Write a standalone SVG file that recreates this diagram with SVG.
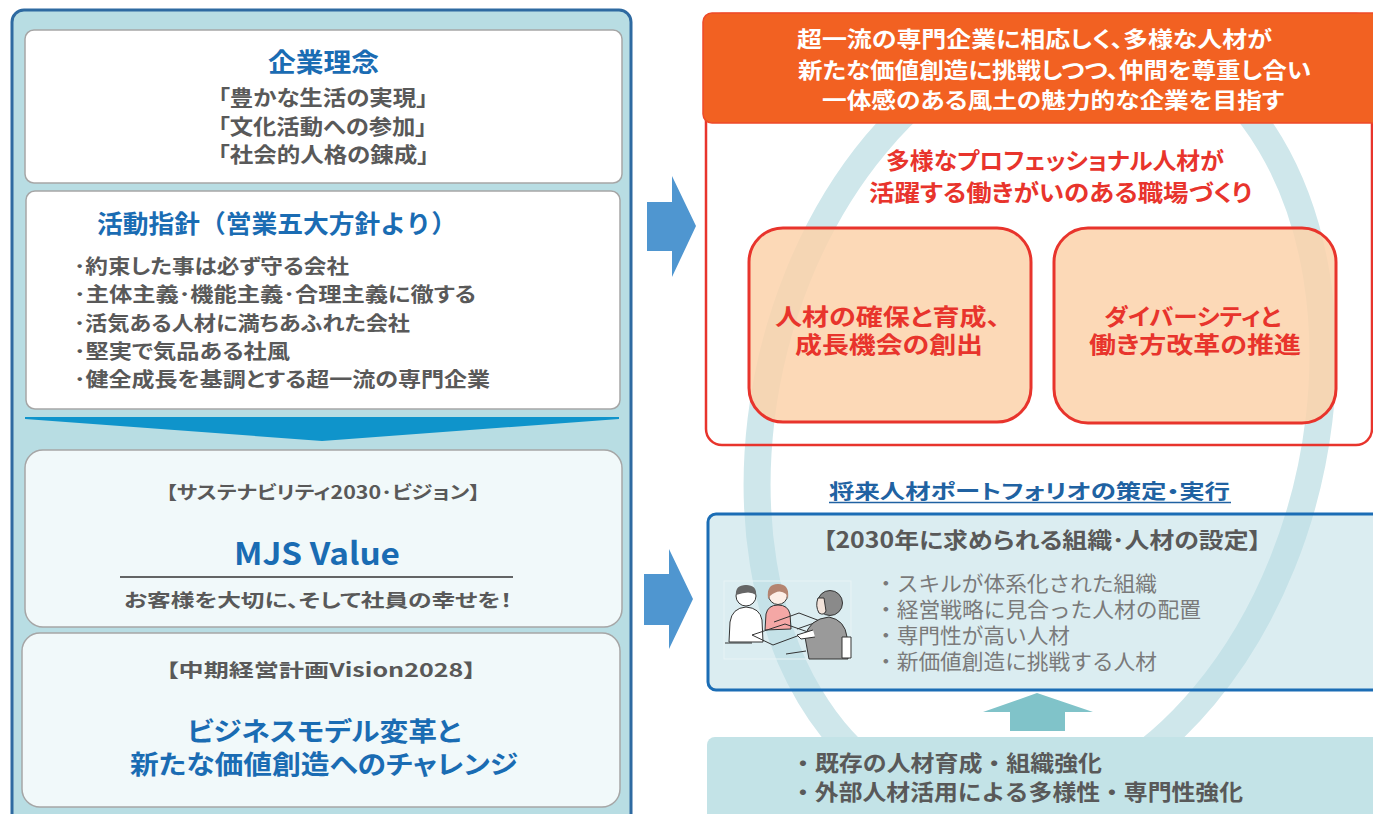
<svg xmlns="http://www.w3.org/2000/svg" width="1373" height="814" viewBox="0 0 1373 814">
  <defs>
    <style>
      .jp{font-family:'Noto Sans CJK JP','Noto Sans CJK SC',sans-serif;font-weight:700}
      .pt{font-feature-settings:'palt'}
      .rg{font-family:'Noto Sans CJK JP','Noto Sans CJK SC',sans-serif;font-weight:400}
      .blue{fill:#1a6cb3}
      .gray{fill:#595959}
      .red{fill:#e8342c}
      .card{fill:#ffffff;stroke:#a6a6a6;stroke-width:1.5}
      .card2{fill:#f1f9fa;stroke:#a6a6a6;stroke-width:1.5}
      .flow{fill:#4f96d0}
      .peach{fill:#fcd3ab;fill-opacity:0.86;stroke:#e8342c;stroke-width:3}
      .ink{stroke:#333;stroke-width:1;stroke-linejoin:round}
    </style>
  </defs>

  <rect width="1373" height="814" fill="#ffffff"/>

  <!-- left column -->
  <g id="left-panel">
    <rect x="12" y="10" width="619" height="830" rx="12" fill="#b8dde3" stroke="#2e6aa1" stroke-width="3"/>
  </g>

  <g id="philosophy">
    <rect class="card" x="25" y="30" width="597" height="153" rx="9"/>
    <text class="jp pt blue" x="268" y="72" font-size="26" textLength="111" lengthAdjust="spacingAndGlyphs">企業理念</text>
    <text class="jp pt gray" x="218" y="105" font-size="21" textLength="210" lengthAdjust="spacingAndGlyphs">「豊かな生活の実現」</text>
    <text class="jp pt gray" x="218" y="134" font-size="21" textLength="209" lengthAdjust="spacingAndGlyphs">「文化活動への参加」</text>
    <text class="jp pt gray" x="218" y="162" font-size="21" textLength="211" lengthAdjust="spacingAndGlyphs">「社会的人格の錬成」</text>
  </g>

  <g id="guidelines">
    <rect class="card" x="26" y="191" width="594" height="218" rx="9"/>
    <text class="jp blue" x="97" y="233" font-size="25" textLength="360" lengthAdjust="spacingAndGlyphs">活動指針（営業五大方針より）</text>
    <text class="jp pt gray" x="74" y="274" font-size="20" textLength="275" lengthAdjust="spacingAndGlyphs">･約束した事は必ず守る会社</text>
    <text class="jp pt gray" x="74" y="302" font-size="20" textLength="402" lengthAdjust="spacingAndGlyphs">･主体主義･機能主義･合理主義に徹する</text>
    <text class="jp pt gray" x="74" y="331" font-size="20" textLength="336" lengthAdjust="spacingAndGlyphs">･活気ある人材に満ちあふれた会社</text>
    <text class="jp pt gray" x="74" y="359" font-size="20" textLength="216" lengthAdjust="spacingAndGlyphs">･堅実で気品ある社風</text>
    <text class="jp pt gray" x="74" y="387" font-size="20" textLength="416" lengthAdjust="spacingAndGlyphs">･健全成長を基調とする超一流の専門企業</text>
  </g>

  <g id="down-chevron">
    <polygon points="25,417 619,417 619,419 322,441 25,419" fill="#0f94cb"/>
  </g>

  <g id="vision-2030">
    <rect class="card2" x="25" y="450" width="597" height="177" rx="18"/>
    <text class="jp pt gray" x="166" y="499" font-size="18" textLength="314" lengthAdjust="spacingAndGlyphs">【サステナビリティ2030･ビジョン】</text>
    <text class="jp blue" x="234" y="565" font-size="31" textLength="166" lengthAdjust="spacingAndGlyphs">MJS Value</text>
    <line x1="120" y1="577" x2="513" y2="577" stroke="#333" stroke-width="1.5"/>
    <text class="jp pt gray" x="124" y="607" font-size="18.5" textLength="388" lengthAdjust="spacingAndGlyphs">お客様を大切に、そして社員の幸せを！</text>
  </g>

  <g id="vision-2028">
    <rect class="card2" x="22" y="633" width="598" height="174" rx="18"/>
    <text class="jp pt gray" x="166" y="677" font-size="18.5" textLength="310" lengthAdjust="spacingAndGlyphs">【中期経営計画Vision2028】</text>
    <text class="jp pt blue" x="187" y="741" font-size="26" textLength="274" lengthAdjust="spacingAndGlyphs">ビジネスモデル変革と</text>
    <text class="jp pt blue" x="130" y="774" font-size="26" textLength="388" lengthAdjust="spacingAndGlyphs">新たな価値創造へのチャレンジ</text>
  </g>

  <!-- connectors -->
  <g id="connectors">
    <polygon class="flow" points="647,202 672,202 672,176 696,226 672,277 672,251 647,251"/>
    <polygon class="flow" points="644,574 669,574 669,549 693,599 669,649 669,625 644,625"/>
    <polygon points="1037,693 1093,712 1065,712 1065,731 1010,731 1010,712 983,712" fill="#80c3c9"/>
  </g>

  <!-- cycle ring behind the right column (slanted oval) -->
  <g id="cycle-ring" transform="translate(1040 420) matrix(1 0 -0.12 1 0 0)">
    <ellipse cx="0" cy="0" rx="279" ry="390" fill="none" stroke="#cfe7eb" stroke-width="27" vector-effect="non-scaling-stroke"/>
  </g>

  <g id="goal-frame">
    <rect x="706" y="14" width="666" height="431" rx="16" fill="none" stroke="#e8342c" stroke-width="2.5"/>
  </g>

  <g id="goal-header">
    <rect x="703" y="13" width="690" height="110" rx="9" fill="#f26122" stroke="#ee4a28" stroke-width="1.5"/>
    <text class="jp pt" fill="#ffffff" x="797" y="47" font-size="22" textLength="475" lengthAdjust="spacingAndGlyphs">超一流の専門企業に相応しく、多様な人材が</text>
    <text class="jp pt" fill="#ffffff" x="798" y="78" font-size="22" textLength="513" lengthAdjust="spacingAndGlyphs">新たな価値創造に挑戦しつつ、仲間を尊重し合い</text>
    <text class="jp pt" fill="#ffffff" x="822" y="108" font-size="22" textLength="462" lengthAdjust="spacingAndGlyphs">一体感のある風土の魅力的な企業を目指す</text>
  </g>

  <g id="workplace-title">
    <text class="jp pt red" x="886" y="169" font-size="23" textLength="338" lengthAdjust="spacingAndGlyphs">多様なプロフェッショナル人材が</text>
    <text class="jp pt red" x="869" y="201" font-size="23" textLength="383" lengthAdjust="spacingAndGlyphs">活躍する働きがいのある職場づくり</text>
  </g>

  <g id="talent-growth">
    <rect class="peach" x="749" y="228" width="282" height="194" rx="34"/>
    <text class="jp pt red" x="775" y="325" font-size="23" textLength="225" lengthAdjust="spacingAndGlyphs">人材の確保と育成、</text>
    <text class="jp pt red" x="795" y="353" font-size="23" textLength="188" lengthAdjust="spacingAndGlyphs">成長機会の創出</text>
  </g>

  <g id="diversity">
    <rect class="peach" x="1054" y="228" width="282" height="195" rx="34"/>
    <text class="jp pt red" x="1104" y="325" font-size="23" textLength="177" lengthAdjust="spacingAndGlyphs">ダイバーシティと</text>
    <text class="jp pt red" x="1089" y="353" font-size="23" textLength="212" lengthAdjust="spacingAndGlyphs">働き方改革の推進</text>
  </g>

  <g id="portfolio-title">
    <text class="jp pt" fill="#2062a2" x="829" y="499" font-size="20" textLength="401" lengthAdjust="spacingAndGlyphs">将来人材ポートフォリオの策定・実行</text>
    <line x1="829" y1="502.5" x2="1231" y2="502.5" stroke="#2062a2" stroke-width="1.5"/>
  </g>

  <g id="target-2030">
    <rect x="708" y="514" width="690" height="176" rx="8" fill="#bddfe6" fill-opacity="0.55" stroke="#1b6db5" stroke-width="3"/>
    <text class="jp pt gray" x="823" y="548" font-size="22" textLength="438" lengthAdjust="spacingAndGlyphs">【2030年に求められる組織･人材の設定】</text>
    <text class="rg" fill="#7a7a7a" x="875" y="591" font-size="21" textLength="282" lengthAdjust="spacingAndGlyphs">・スキルが体系化された組織</text>
    <text class="rg" fill="#7a7a7a" x="875" y="617" font-size="21" textLength="326" lengthAdjust="spacingAndGlyphs">・経営戦略に見合った人材の配置</text>
    <text class="rg" fill="#7a7a7a" x="875" y="643" font-size="21" textLength="195" lengthAdjust="spacingAndGlyphs">・専門性が高い人材</text>
    <text class="rg" fill="#7a7a7a" x="875" y="669" font-size="21" textLength="282" lengthAdjust="spacingAndGlyphs">・新価値創造に挑戦する人材</text>

    <!-- meeting illustration -->
    <g id="meeting">
      <rect x="724" y="581" width="127" height="78" fill="none" stroke="#e8f3f5" stroke-width="1"/>
      <!-- boy -->
      <path class="ink" d="M729,642 L730,622 Q732,608 746,607 Q760,608 762,620 L763,642 Z" fill="#ffffff"/>
      <circle class="ink" cx="746" cy="596" r="10" fill="#ffffff"/>
      <path d="M736,595 Q735,585 746,585 Q757,585 756,595 Q750,590 736,595 Z" fill="#666"/>
      <!-- girl -->
      <path class="ink" d="M765,630 L766,614 Q768,605 778,605 Q788,605 790,614 L791,629 Z" fill="#f4a7a5"/>
      <circle class="ink" cx="778" cy="595" r="9.5" fill="#fdeee6"/>
      <path d="M768,599 Q766,584 778,584 Q790,584 788,599 L786,594 Q779,588 770,596 Z" fill="#b48470"/>
      <!-- table papers -->
      <path class="ink" d="M752,635 L785,624 L808,632 L773,645 Z" fill="none"/>
      <path class="ink" d="M774,622 L799,613 L820,621 L797,629" fill="none"/>
      <line class="ink" x1="725" y1="643" x2="752" y2="643"/>
      <line class="ink" x1="786" y1="654" x2="806" y2="651"/>
      <!-- man -->
      <path class="ink" d="M809,659 L805,637 Q809,619 829,617 Q845,620 847,637 L848,659 Z" fill="#9a9a9a"/>
      <path class="ink" d="M813,630 L797,635 L801,639 L815,637" fill="#ffffff"/>
      <circle class="ink" cx="830" cy="603" r="12.5" fill="#8a8a8a"/>
      <path class="ink" d="M818,598 Q815,606 819,613 Q824,616 826,611 L824,598 Z" fill="#f3e3da"/>
      <rect class="ink" x="842" y="637" width="9" height="21" fill="#ffffff"/>
    </g>
  </g>

  <g id="current-measures">
    <rect x="707" y="737" width="690" height="90" rx="8" fill="#c3e3e7"/>
    <text class="jp gray" x="791" y="771" font-size="22" textLength="311" lengthAdjust="spacingAndGlyphs">・既存の人材育成・組織強化</text>
    <text class="jp gray" x="791" y="800" font-size="22" textLength="452" lengthAdjust="spacingAndGlyphs">・外部人材活用による多様性・専門性強化</text>
  </g>
</svg>
